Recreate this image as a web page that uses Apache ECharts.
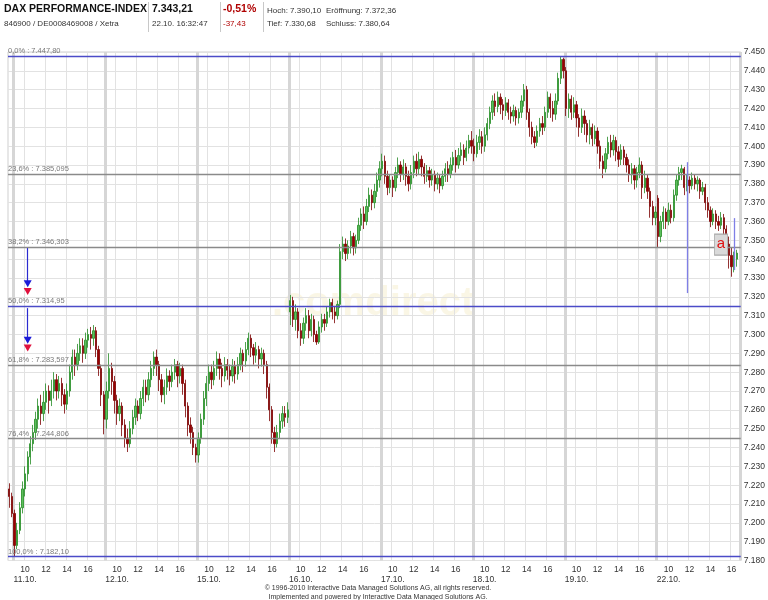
<!DOCTYPE html>
<html><head><meta charset="utf-8">
<script src="https://cdn.jsdelivr.net/npm/echarts@6/dist/echarts.min.js"></script>
<style>html,body{margin:0;padding:0;background:#fff}#c{width:768px;height:600px}</style>
</head><body><div id="c"></div><script>
// ---- axis structure ----
const dayLabels = ['11.10.','12.10.','15.10.','16.10.','17.10.','18.10.','19.10.','22.10.'];
const slotsPerDay = [35,35,35,35,35,35,35,32];   // 15-minute slots from 09:00
const preSlots = ['08:30','08:45'];
const hourTicks = [10,12,14,16];
const yMin = 7180, yMax = 7450, yStep = 10;

// ---- candles [open, close, low, high], 15-minute bars ----
const pre1110 = [[7218,7214,7208,7221],[7214,7205,7203,7216]];
const d1110 = [[7205,7188,7182.1,7207],[7188,7196,7186,7200],[7196,7208,7194,7211],[7208,7218,7205,7222],[7218,7226,7214,7230],
[7226,7235,7222,7238],[7235,7242,7231,7246],[7242,7248,7238,7252],[7248,7255,7244,7259],[7255,7262,7250,7266],
[7262,7258,7252,7268],[7258,7264,7254,7270],[7264,7270,7260,7274],[7270,7265,7258,7273],[7265,7270,7262,7276],
[7270,7276,7266,7280],[7276,7270,7265,7279],[7270,7274,7266,7278],[7274,7268,7262,7277],[7268,7263,7258,7271],
[7263,7270,7260,7274],[7270,7280,7267,7284],[7280,7288,7276,7292],[7288,7284,7278,7292],[7284,7290,7281,7295],
[7290,7294,7286,7298],[7294,7290,7285,7298],[7290,7297,7287,7301],[7297,7300,7293,7303],[7300,7298,7292,7304],
[7298,7302,7294,7305],[7302,7292,7288,7304],[7292,7282,7278,7294],[7282,7268,7262,7284],[7268,7255,7247,7270]];
const d1210 = [[7255,7270,7250,7275],[7270,7282,7266,7290],[7282,7275,7268,7285],[7275,7265,7258,7278],[7265,7258,7252,7268],
[7258,7262,7254,7266],[7262,7252,7246,7264],[7252,7245,7240,7255],[7245,7242,7237.6,7250],[7242,7250,7240,7254],
[7250,7256,7247,7260],[7256,7262,7252,7266],[7262,7258,7254,7265],[7258,7266,7255,7270],[7266,7272,7262,7276],
[7272,7268,7264,7276],[7268,7276,7265,7280],[7276,7282,7272,7286],[7282,7288,7278,7291],[7288,7284,7278,7292],
[7284,7276,7270,7286],[7276,7268,7264,7279],[7268,7272,7263,7276],[7272,7278,7268,7282],[7278,7275,7270,7281],
[7275,7280,7272,7284],[7280,7284,7276,7287],[7284,7278,7272,7286],[7278,7282,7274,7285],[7282,7274,7268,7284],
[7274,7262,7256,7276],[7262,7252,7246,7264],[7252,7248,7242,7256],[7248,7240,7236,7251],[7240,7236,7232,7242]];
const d1510 = [[7236,7245,7232,7248],[7245,7255,7242,7258],[7255,7266,7252,7270],[7266,7274,7262,7278],[7274,7280,7270,7284],
[7280,7276,7271,7284],[7276,7282,7273,7286],[7282,7287,7278,7291],[7287,7282,7276,7290],[7282,7278,7272,7285],
[7278,7284,7275,7288],[7284,7281,7276,7287],[7281,7278,7273,7284],[7278,7283,7275,7287],[7283,7279,7274,7286],
[7279,7284,7276,7288],[7284,7290,7281,7293],[7290,7286,7280,7292],[7286,7292,7283,7296],[7292,7298,7289,7301],
[7298,7293,7288,7300],[7293,7289,7284,7295],[7289,7292,7285,7296],[7292,7287,7282,7294],[7287,7290,7283,7293],
[7290,7284,7279,7292],[7284,7272,7266,7286],[7272,7260,7254,7274],[7260,7248,7242,7262],[7248,7242,7237.6,7251],
[7242,7248,7240,7252],[7248,7254,7245,7258],[7254,7258,7250,7262],[7258,7256,7251,7262],[7256,7260,7253,7264]];
const d1610 = [[7312,7318,7305,7321],[7318,7308,7304,7320],[7308,7312,7302,7316],[7312,7302,7298,7314],[7302,7298,7294,7306],
[7298,7306,7295,7309],[7306,7310,7302,7314],[7310,7302,7298,7313],[7302,7308,7299,7311],[7308,7300,7296,7310],
[7300,7296,7294.5,7302],[7296,7304,7295,7307],[7304,7308,7301,7311],[7308,7306,7302,7311],[7306,7312,7304,7315],
[7312,7317,7309,7319],[7317,7312,7308,7319],[7312,7310,7306,7315],[7310,7316,7308,7318],[7316,7344,7314,7348],
[7344,7348,7340,7352],[7348,7343,7339,7351],[7343,7347,7340,7350],[7347,7352,7343,7355],[7352,7346,7342,7354],
[7346,7350,7343,7353],[7350,7358,7348,7362],[7358,7364,7355,7367],[7364,7360,7356,7368],[7360,7368,7358,7372],
[7368,7374,7365,7378],[7374,7370,7366,7377],[7370,7376,7367,7380],[7376,7382,7373,7386],[7382,7388,7378,7392]];
const d1710 = [[7388,7392,7384,7396],[7392,7384,7380,7395],[7384,7378,7374,7387],[7378,7382,7375,7385],[7382,7378,7373,7384],
[7378,7386,7376,7389],[7386,7390,7383,7394],[7390,7385,7381,7392],[7385,7389,7382,7393],[7389,7384,7379,7391],
[7384,7380,7376,7387],[7380,7386,7377,7390],[7386,7392,7383,7395],[7392,7388,7384,7396],[7388,7393,7385,7397],
[7393,7389,7384,7395],[7389,7384,7380,7391],[7384,7387,7381,7390],[7387,7382,7378,7389],[7382,7385,7379,7388],
[7385,7380,7376,7387],[7380,7383,7377,7386],[7383,7379,7375,7385],[7379,7384,7377,7387],[7384,7388,7381,7391],
[7388,7385,7381,7392],[7385,7390,7383,7394],[7390,7394,7387,7397],[7394,7390,7386,7398],[7390,7395,7388,7399],
[7395,7398,7392,7402],[7398,7394,7390,7401],[7394,7399,7392,7403],[7399,7403,7396,7406],[7403,7400,7396,7408]];
const d1810 = [[7400,7396,7392,7404],[7396,7402,7394,7406],[7402,7405,7398,7409],[7405,7400,7396,7408],[7400,7406,7397,7410],
[7406,7412,7403,7415],[7412,7418,7409,7421],[7418,7424,7414,7427],[7424,7421,7416,7428],[7421,7426,7418,7429],
[7426,7422,7417,7428],[7422,7419,7414,7425],[7419,7423,7416,7426],[7423,7418,7414,7425],[7418,7416,7412,7421],
[7416,7419,7413,7422],[7419,7415,7411,7421],[7415,7418,7412,7420],[7418,7424,7415,7427],[7424,7430,7421,7433],
[7430,7418,7414,7432],[7418,7410,7405,7420],[7410,7405,7401,7413],[7405,7402,7399,7408],[7402,7408,7400,7411],
[7408,7412,7405,7415],[7412,7410,7406,7416],[7410,7418,7408,7421],[7418,7426,7415,7429],[7426,7420,7415,7428],
[7420,7417,7413,7424],[7417,7424,7414,7428],[7424,7436,7422,7439],[7436,7446,7433,7447.8],[7446,7440,7436,7447]];
const d1910 = [[7440,7420,7416,7442],[7420,7425,7415,7428],[7425,7418,7414,7427],[7418,7422,7415,7426],[7422,7415,7410,7424],
[7415,7410,7405,7417],[7410,7416,7407,7420],[7416,7412,7406,7419],[7412,7406,7402,7414],[7406,7410,7401,7414],
[7410,7404,7400,7412],[7404,7408,7401,7411],[7408,7400,7396,7410],[7400,7392,7388,7403],[7392,7388,7383,7395],
[7388,7396,7386,7399],[7396,7402,7393,7405],[7402,7398,7394,7406],[7398,7403,7395,7406],[7403,7397,7392,7405],
[7397,7393,7389,7400],[7393,7398,7390,7401],[7398,7394,7390,7400],[7394,7390,7386,7396],[7390,7385,7381,7393],
[7385,7388,7380,7391],[7388,7382,7377,7390],[7382,7386,7378,7389],[7386,7390,7383,7394],[7390,7378,7372,7392],
[7378,7383,7375,7387],[7383,7376,7372,7385],[7376,7368,7362,7378],[7368,7362,7358,7371],[7362,7365,7358,7368]];
const d2210 = [[7372.36,7352,7346,7374],[7352,7360,7349,7363],[7360,7365,7356,7368],[7365,7360,7356,7367],[7360,7366,7358,7370],
[7366,7362,7359,7369],[7362,7374,7360,7377],[7374,7382,7371,7385],[7382,7386,7379,7389],[7386,7388,7382,7390.1],
[7388,7378,7374,7389],[7378,7382,7376,7385],[7382,7379,7375,7384],[7379,7383,7377,7386],[7383,7380,7377,7385],
[7380,7382,7376,7384],[7382,7376,7372,7383],[7376,7378,7374,7381],[7378,7370,7366,7380],[7370,7366,7362,7373],
[7366,7360,7357,7368],[7360,7364,7358,7367],[7364,7360,7356,7366],[7360,7358,7355,7363],[7358,7362,7356,7365],
[7362,7356,7352,7364],[7356,7348,7344,7358],[7348,7342,7335,7352],[7342,7336,7330.68,7346],[7336,7340,7333,7344],
[7340,7343.21,7336,7345]];

// ---- Fibonacci retracement levels ----
const fibPct = ['0,0%','23,6%','38,2%','50,0%','61,8%','76,4%','100,0%'];
const fibValues = [7447.80, 7385.095, 7346.303, 7314.95, 7283.597, 7244.806, 7182.10];
const fibText = ['7.447,80','7.385,095','7.346,303','7.314,95','7.283,597','7.244,806','7.182,10'];
const fibMajor = [true,false,false,true,false,false,true];

// ---- annotations (category, price) ----
const vLines = [['22.10. 11:45',7391.5,7322.0],['22.10. 16:15',7361.8,7334.2]];
const arrowLines = [['11.10. 10:15',7345.9,7328.4],['11.10. 10:15',7314.0,7298.6]];
const blueTri = [['11.10. 10:15',7327.0],['11.10. 10:15',7297.0]];
const redTri = [['11.10. 10:15',7322.8],['11.10. 10:15',7292.8]];
const boxA = ['22.10. 15:00',7347.7];

// ---- build ----
function pad(n){return (n<10?'0':'')+n;}
const cats = [];
preSlots.forEach(t=>cats.push(dayLabels[0]+' '+t));
dayLabels.forEach((d,i)=>{for(let k=0;k<slotsPerDay[i];k++){const m=540+15*k;cats.push(d+' '+pad(Math.floor(m/60))+':'+pad(m%60));}});
const candles = [].concat(pre1110,d1110,d1210,d1510,d1610,d1710,d1810,d1910,d2210);

function isHour(v){const t=v.split(' ')[1];return t.slice(3)==='00'&&hourTicks.indexOf(+t.slice(0,2))>=0;}
function isDayStart(v){return v.split(' ')[1]==='09:00';}
const FONT = '"Liberation Sans", Arial, sans-serif';

const markLines = fibValues.map((v,i)=>({
  yAxis:v,
  lineStyle:{color:fibMajor[i]?'#4b4bc8':'#8a8a8a',width:1.3,type:'solid'},
  label:{show:true,formatter:fibPct[i]+' : '+fibText[i],position:'insideStartTop',distance:[0,1],
    color:'#7a7a7a',fontSize:7.5,fontFamily:FONT}
}));
vLines.forEach(l=>markLines.push([{coord:[l[0],l[1]],lineStyle:{color:'#7f7fe6',width:1.3,type:'solid'},label:{show:false}},{coord:[l[0],l[2]]}]));
arrowLines.forEach(l=>markLines.push([{coord:[l[0],l[1]],lineStyle:{color:'#2a2ad0',width:1.2,type:'solid'},label:{show:false}},{coord:[l[0],l[2]]}]));

const markPoints = [];
blueTri.forEach(p=>markPoints.push({coord:p,symbol:'triangle',symbolRotate:180,symbolSize:[8,7],itemStyle:{color:'#1a1ad8'},label:{show:false}}));
redTri.forEach(p=>markPoints.push({coord:p,symbol:'triangle',symbolRotate:180,symbolSize:[8,7],itemStyle:{color:'#e0103c'},label:{show:false}}));
markPoints.push({coord:boxA,symbol:'rect',symbolSize:[13,21],itemStyle:{color:'#d9d9d9',borderColor:'#a8a8a8',borderWidth:1},
  label:{show:true,formatter:'a',color:'#e01010',fontSize:15,fontFamily:FONT,position:'inside',offset:[0,-1]}});

const chart = echarts.init(document.getElementById('c'),null,{renderer:'canvas'});
const hdr = (txt,x,y,size,opt)=>({type:'text',left:x,top:y,style:{text:txt,font:(opt&&opt.bold?'bold ':'')+size+'px '+FONT,fill:(opt&&opt.color)||'#222'}});
chart.setOption({
  animation:false,
  backgroundColor:'#fff',
  grid:{left:8,right:25,top:52,bottom:39.5,show:true,borderColor:'#cfcfcf',borderWidth:1},
  xAxis:[{
    type:'category',data:cats,boundaryGap:true,
    axisLine:{show:false},axisTick:{show:false},
    axisLabel:{interval:(i,v)=>isHour(v),formatter:v=>{const p=v.split(' ');const h=+p[1].slice(0,2);return h===10?h+'\n'+p[0]:''+h;},
      color:'#333',fontSize:8.5,fontFamily:FONT,lineHeight:10,margin:4},
    splitLine:{show:true,interval:(i,v)=>isHour(v),lineStyle:{color:'#e2e2e2',width:1}}
  },{
    type:'category',data:cats,boundaryGap:true,position:'bottom',
    axisLine:{show:false},axisTick:{show:false},axisLabel:{show:false},
    splitLine:{show:true,interval:(i,v)=>isDayStart(v),lineStyle:{color:'#d6d6d6',width:3}}
  }],
  yAxis:{
    type:'value',position:'right',min:yMin,max:yMax,interval:yStep,scale:true,
    axisLine:{show:false},axisTick:{show:false},
    axisLabel:{formatter:v=>(v/1000).toFixed(3),color:'#333',fontSize:8.5,fontFamily:FONT,margin:3},
    splitLine:{lineStyle:{color:'#e2e2e2',width:1}}
  },
  graphic:[
    {type:'text',left:272,top:284,z:-1,style:{text:'.comdirect',font:'bold 40px '+FONT,fill:'rgba(240,228,180,0.35)'}},
    hdr('DAX PERFORMANCE-INDEX',4,4,10.5,{bold:true,color:'#111'}),
    hdr('846900 / DE0008469008 / Xetra',4,20,8,{color:'#333'}),
    hdr('7.343,21',152,4,10.5,{bold:true,color:'#111'}),
    hdr('22.10. 16:32:47',152,20,8,{color:'#333'}),
    hdr('-0,51%',223,4,10.5,{bold:true,color:'#b00000'}),
    hdr('-37,43',223,20,8,{color:'#b00000'}),
    hdr('Hoch: 7.390,10',267,7,8,{color:'#333'}),
    hdr('Eröffnung: 7.372,36',326,7,8,{color:'#333'}),
    hdr('Tief: 7.330,68',267,20,8,{color:'#333'}),
    hdr('Schluss: 7.380,64',326,20,8,{color:'#333'}),
    {type:'line',shape:{x1:148.5,y1:2,x2:148.5,y2:32},style:{stroke:'#c8c8c8',lineWidth:1}},
    {type:'line',shape:{x1:220.5,y1:2,x2:220.5,y2:32},style:{stroke:'#c8c8c8',lineWidth:1}},
    {type:'line',shape:{x1:263.5,y1:2,x2:263.5,y2:32},style:{stroke:'#c8c8c8',lineWidth:1}},
    {type:'text',x:378,y:585,style:{text:'© 1996-2010 Interactive Data Managed Solutions AG, all rights reserved.',font:'7px '+FONT,fill:'#333',textAlign:'center'}},
    {type:'text',x:378,y:594,style:{text:'Implemented and powered by Interactive Data Managed Solutions AG.',font:'7px '+FONT,fill:'#333',textAlign:'center'}}
  ],
  series:[{
    type:'candlestick',data:candles,barWidth:1.8,
    itemStyle:{color:'#5cc05c',color0:'#9a0000',borderColor:'#238a23',borderColor0:'#7a0000',borderWidth:0.8},
    markLine:{silent:true,symbol:['none','none'],animation:false,data:markLines},
    markPoint:{silent:true,animation:false,data:markPoints}
  }]
});
</script></body></html>
